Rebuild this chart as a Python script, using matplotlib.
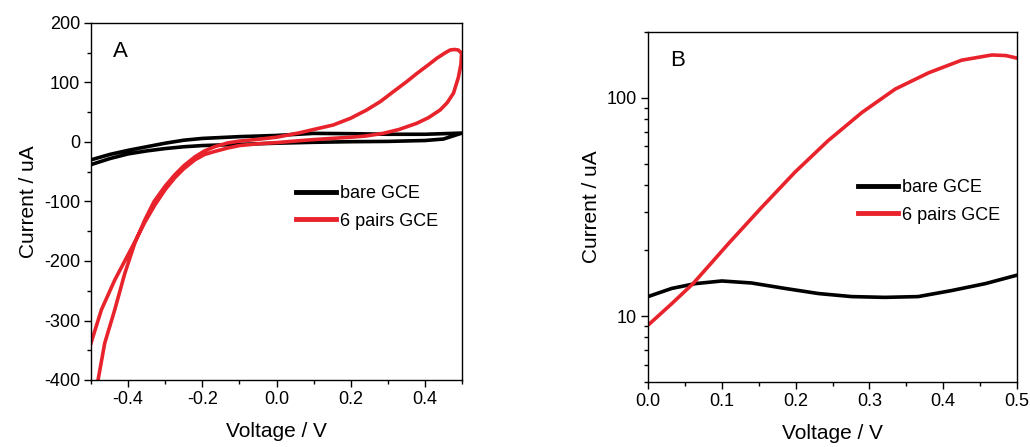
import matplotlib
matplotlib.use("Agg")
import matplotlib.pyplot as plt
import numpy as np
from matplotlib.ticker import (MultipleLocator, LogLocator, NullFormatter,
                               FixedLocator, FormatStrFormatter)

plt.rcParams['font.family'] = ['Liberation Sans', 'DejaVu Sans']
plt.rcParams['axes.unicode_minus'] = False

RED = '#e8232b'

# panel A: cyclic voltammograms, each one closed loop (forward then reverse scan)
cv_red_v = [-0.481, -0.463, -0.436, -0.409, -0.382, -0.355, -0.330, -0.300, -0.274,
            -0.250, -0.220, -0.194, -0.167, -0.131, -0.100, -0.050, 0.000, 0.063,
            0.100, 0.153, 0.200, 0.243, 0.280, 0.315, 0.350, 0.378, 0.410, 0.432,
            0.455, 0.468, 0.480, 0.490, 0.499,
            0.497, 0.490, 0.477, 0.460, 0.441, 0.410, 0.378, 0.330, 0.288, 0.240,
            0.200, 0.153, 0.100, 0.063, 0.000, -0.050, -0.100, -0.131, -0.167,
            -0.194, -0.220, -0.250, -0.274, -0.300, -0.328, -0.355, -0.382, -0.409,
            -0.436, -0.472, -0.500]
cv_red_i = [-400, -338, -282, -221, -170, -131, -100, -74, -55,
            -40, -25, -15, -8, -1.5, 1.5, 4.5, 8, 15.6,
            21, 28.6, 40, 53.8, 68, 84.6, 101, 115, 130, 140.7,
            150, 154.6, 155.5, 154.6, 149,
            130, 108, 82, 66, 53.8, 41, 31.4, 21, 14.6, 10,
            8, 6.2, 4, 2.2, -1, -3, -6, -10, -16,
            -21, -30, -45, -60, -80, -106, -135, -168, -200,
            -232, -282, -338]

cv_black_v = [-0.50, -0.45, -0.40, -0.35, -0.30, -0.25, -0.20, -0.10, 0.00, 0.10,
              0.20, 0.30, 0.40, 0.50,
              0.45, 0.40, 0.30, 0.20, 0.10, 0.00, -0.10, -0.20, -0.25, -0.30,
              -0.35, -0.40, -0.45, -0.50]
cv_black_i = [-30, -21, -14, -8, -2, 3, 6, 9, 11, 14.5,
              14, 13, 13, 15,
              5, 2.5, 1, 0.5, -0.5, -2, -4, -6, -8, -11,
              -15, -20, -28, -38]

# panel B: anodic branch on a log current axis
lin_v = [0.000, 0.032, 0.061, 0.085, 0.109, 0.154, 0.199, 0.244, 0.290, 0.335,
         0.380, 0.425, 0.466, 0.485, 0.4995]
lin_red = [9.1, 11.4, 14.1, 17.4, 21.5, 31.5, 45.6, 63.6, 85.7, 109.6,
           130, 148.6, 157, 156, 152]
lin_black_v = [0.000, 0.032, 0.064, 0.100, 0.140, 0.186, 0.231, 0.276, 0.321,
               0.366, 0.411, 0.457, 0.4995]
lin_black = [12.3, 13.4, 14.1, 14.5, 14.2, 13.4, 12.7, 12.3, 12.2,
             12.3, 13.1, 14.1, 15.4]

fig = plt.figure(figsize=(10.3, 4.47), dpi=100)
axA = fig.add_axes([91/1030, 1-380/447, 371/1030, 357/447])
axB = fig.add_axes([648/1030, 1-382/447, 369/1030, 350/447])

lw = 2.6
axA.plot(cv_black_v, cv_black_i, color='black', lw=lw, label='bare GCE',
         solid_joinstyle='round')
axA.plot(cv_red_v, cv_red_i, color=RED, lw=lw, label='6 pairs GCE',
         solid_joinstyle='round')
axA.set_xlim(-0.5, 0.5)
axA.set_ylim(-400, 200)
axA.xaxis.set_major_locator(FixedLocator([-0.4, -0.2, 0.0, 0.2, 0.4]))
axA.xaxis.set_minor_locator(MultipleLocator(0.1))
axA.xaxis.set_major_formatter(FormatStrFormatter('%.1f'))
axA.yaxis.set_major_locator(MultipleLocator(100))
axA.yaxis.set_minor_locator(MultipleLocator(50))
axA.text(0.06, 0.92, 'A', transform=axA.transAxes, fontsize=16, va='center')

axB.plot(lin_black_v, lin_black, color='black', lw=lw, label='bare GCE',
         solid_joinstyle='round')
axB.plot(lin_v, lin_red, color=RED, lw=lw, label='6 pairs GCE',
         solid_joinstyle='round')
axB.set_yscale('log')
axB.set_xlim(0, 0.5)
axB.set_ylim(5, 200)
axB.xaxis.set_major_locator(FixedLocator([0.0, 0.1, 0.2, 0.3, 0.4, 0.5]))
axB.xaxis.set_minor_locator(FixedLocator([0.05, 0.15, 0.25, 0.35, 0.45]))
axB.xaxis.set_major_formatter(FormatStrFormatter('%.1f'))
axB.yaxis.set_major_locator(FixedLocator([10, 100]))
axB.yaxis.set_major_formatter(FormatStrFormatter('%d'))
axB.yaxis.set_minor_locator(LogLocator(base=10, subs=np.arange(2, 10), numticks=10))
axB.yaxis.set_minor_formatter(NullFormatter())
axB.text(0.06, 0.92, 'B', transform=axB.transAxes, fontsize=16, va='center')

for ax, leg_xy in ((axA, (0.534, 0.566)), (axB, (0.55, 0.60))):
    for s in ax.spines.values():
        s.set_linewidth(1.0)
    ax.tick_params(which='major', direction='out', length=5, width=1.0,
                   labelsize=13, pad=3)
    ax.tick_params(which='minor', direction='out', length=3, width=1.0)
    ax.set_xlabel('Voltage / V', fontsize=15, labelpad=10)
    ax.set_ylabel('Current / uA', fontsize=15, labelpad=4)
    ax.legend(loc='upper left', bbox_to_anchor=leg_xy, frameon=False,
              fontsize=13, handlelength=2.2, handletextpad=0.2,
              labelspacing=0.58, borderaxespad=0)
    for line in ax.get_legend().get_lines():
        line.set_linewidth(3.5)

fig.savefig('out.png', dpi=100)
